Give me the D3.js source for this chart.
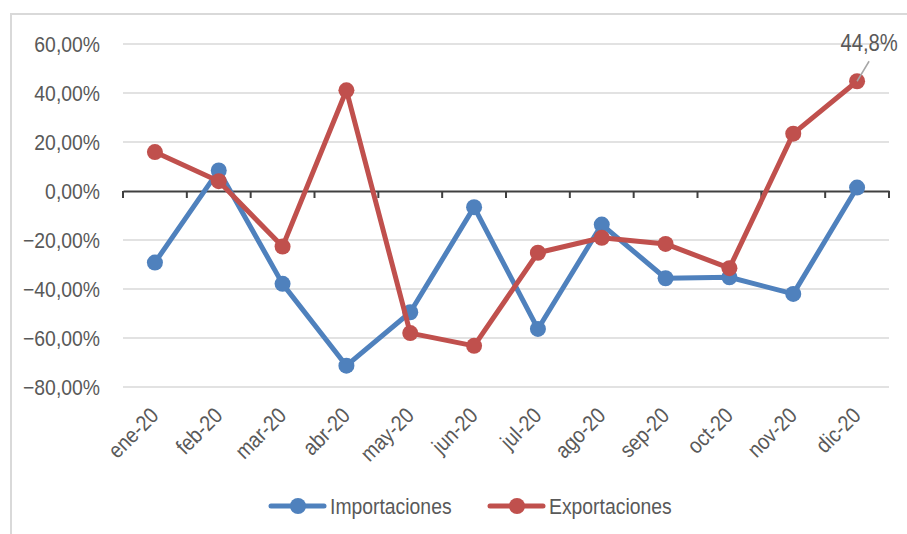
<!DOCTYPE html>
<html lang="es">
<head>
<meta charset="UTF-8">
<title>Importaciones y Exportaciones 2020</title>
<script src="https://d3js.org/d3.v7.min.js"></script>
<style>
    body { margin: 0; background: #fff; }
    svg text { font-family: "Liberation Sans", Arial, sans-serif; fill: #595959; }
</style>
</head>
<body>
<svg id="chart"></svg>
<script>
    // datos
    const meses = ["ene-20", "feb-20", "mar-20", "abr-20", "may-20", "jun-20",
                   "jul-20", "ago-20", "sep-20", "oct-20", "nov-20", "dic-20"];
    const importaciones = [-29.2, 8.4, -37.9, -71.3, -49.5, -6.6, -56.3, -13.7, -35.6, -35.2, -42.0, 1.4];
    const exportaciones = [15.9, 4.0, -22.7, 41.1, -58.0, -63.2, -25.2, -19.1, -21.6, -31.5, 23.4, 44.8];
    const yTicks = [60, 40, 20, 0, -20, -40, -60, -80];

    const width = 907, height = 534;
    const margin = { top: 44, right: 18, bottom: 147, left: 123 };
    const sx = 0.88; // letra estrecha (tipo Arial Narrow)

    const svg = d3.select("#chart").attr("width", width).attr("height", height);

    // marco exterior
    svg.append("rect")
        .attr("x", 11).attr("y", 14)
        .attr("width", width).attr("height", height)
        .attr("fill", "none").attr("stroke", "#d9d9d9").attr("stroke-width", 2);

    const x = d3.scaleBand().domain(meses).range([margin.left, width - margin.right]);
    const y = d3.scaleLinear().domain([-80, 60]).range([height - margin.bottom, margin.top]);

    // lineas de cuadricula
    svg.append("g")
        .selectAll("line").data(yTicks.filter(d => d !== 0)).join("line")
        .attr("x1", margin.left).attr("x2", width - margin.right)
        .attr("y1", d => y(d)).attr("y2", d => y(d))
        .attr("stroke", "#d9d9d9").attr("stroke-width", 1.5);

    // eje y (solo etiquetas)
    const yAxis = svg.append("g")
        .attr("transform", `translate(${margin.left},0)`)
        .call(d3.axisLeft(y).tickValues(yTicks).tickSize(0)
            .tickFormat(d => d3.format(".2f")(d).replace(".", ",") + "%"));
    yAxis.select(".domain").remove();
    yAxis.selectAll("text")
        .attr("x", -23 / sx)
        .attr("dy", "0.36em")
        .attr("transform", `scale(${sx},1)`)
        .attr("font-size", 22).attr("fill", "#595959");

    // eje x en el 0
    const xAxis = svg.append("g")
        .attr("transform", `translate(0,${y(0)})`)
        .call(d3.axisBottom(x).tickSize(0).tickFormat(""));
    xAxis.select(".domain").attr("stroke", "#404040").attr("stroke-width", 2);
    xAxis.selectAll(".tick").remove();
    const bordes = meses.map(m => x(m)).concat([x(meses[meses.length - 1]) + x.bandwidth()]);
    xAxis.selectAll("line.sep").data(bordes).join("line")
        .attr("class", "sep")
        .attr("x1", d => d).attr("x2", d => d)
        .attr("y1", 0).attr("y2", 7)
        .attr("stroke", "#404040").attr("stroke-width", 2);

    // etiquetas de meses
    svg.append("g").selectAll("text").data(meses).join("text")
        .attr("transform", d => `translate(${x(d) + x.bandwidth() / 2 + 5},${y(-80) + 30}) rotate(-45) scale(${sx},1)`)
        .attr("text-anchor", "end")
        .attr("font-size", 22)
        .text(d => d);

    const series = [
        { name: "Importaciones", values: importaciones, color: "#4f81bd" },
        { name: "Exportaciones", values: exportaciones, color: "#c0504d" }
    ];

    const line = d3.line()
        .x((d, i) => x(meses[i]) + x.bandwidth() / 2)
        .y(d => y(d));

    series.forEach(s => {
        const g = svg.append("g");
        g.append("path")
            .attr("d", line(s.values))
            .attr("fill", "none")
            .attr("stroke", s.color)
            .attr("stroke-width", 5)
            .attr("stroke-linejoin", "round");
        g.selectAll("circle").data(s.values).join("circle")
            .attr("cx", (d, i) => x(meses[i]) + x.bandwidth() / 2)
            .attr("cy", d => y(d))
            .attr("r", 8)
            .attr("fill", s.color);
    });

    // etiqueta del ultimo valor de exportaciones
    const ultimo = exportaciones[exportaciones.length - 1];
    const ux = x(meses[meses.length - 1]) + x.bandwidth() / 2;
    const uy = y(ultimo);
    svg.append("line")
        .attr("x1", ux).attr("y1", uy)
        .attr("x2", ux + 12).attr("y2", uy - 20)
        .attr("stroke", "#a6a6a6").attr("stroke-width", 1.5);
    svg.append("text")
        .attr("transform", `translate(${ux + 12},${uy - 30}) scale(${sx},1)`)
        .attr("text-anchor", "middle")
        .attr("font-size", 23)
        .attr("fill", "#404040")
        .text(d3.format(".1f")(ultimo).replace(".", ",") + "%");

    // leyenda
    const leyenda = svg.append("g").attr("transform", "translate(269,506)");
    const items = [{ s: series[0], dx: 0 }, { s: series[1], dx: 219 }];
    items.forEach(it => {
        const g = leyenda.append("g").attr("transform", `translate(${it.dx},0)`);
        g.append("line").attr("x1", 2).attr("x2", 55).attr("y1", 0).attr("y2", 0)
            .attr("stroke", it.s.color).attr("stroke-width", 5).attr("stroke-linecap", "round");
        g.append("circle").attr("cx", 29).attr("cy", 0).attr("r", 8).attr("fill", it.s.color);
        g.append("text")
            .attr("transform", `translate(61,8) scale(${sx},1)`)
            .attr("font-size", 22).text(it.s.name);
    });
</script>
</body>
</html>
